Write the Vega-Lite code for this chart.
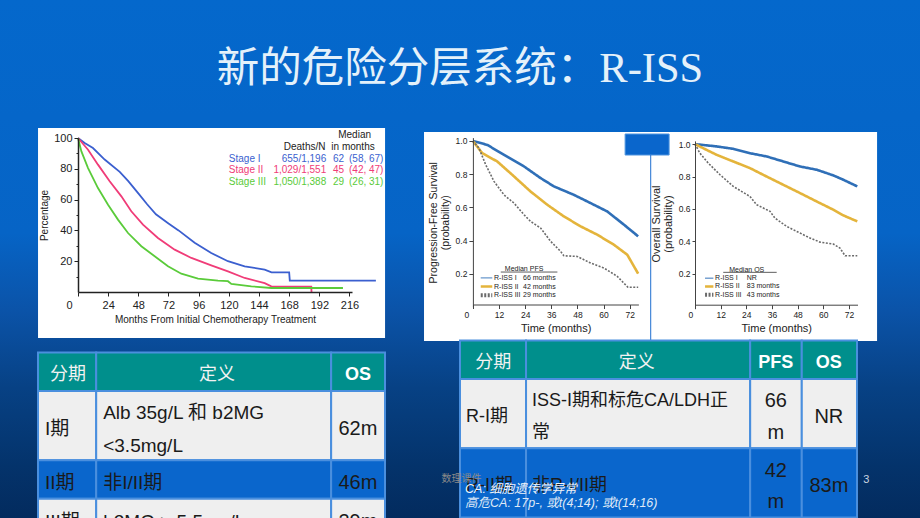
{
"$schema": "https://vega.github.io/schema/vega-lite/v6.json",
"width": 920, "height": 518,
"autosize": {"type": "none"},
"padding": 0,
"background": "#0560c2",
"title": {"text": "新的危险分层系统：R-ISS", "font": "Liberation Serif, Noto Sans CJK SC", "fontSize": 42.5, "fontWeight": "normal", "color": "#e4f1fa", "anchor": "middle", "frame": "group", "offset": -90},
"config": {
  "view": {"stroke": null},
  "axis": {"grid": false, "domainColor": "#222", "tickColor": "#222", "labelColor": "#222", "titleColor": "#222", "titleFontWeight": "normal", "labelFont": "Liberation Sans", "titleFont": "Liberation Sans"}
},
"datasets": {
  "iss": [
    {"group":"Stage I","t":0,"s":100},{"group":"Stage I","t":5.3,"s":96.8},{"group":"Stage I","t":11.9,"s":93.5},{"group":"Stage I","t":21.2,"s":86},{"group":"Stage I","t":33.2,"s":78},{"group":"Stage I","t":40,"s":72},{"group":"Stage I","t":48,"s":64},{"group":"Stage I","t":55,"s":57},{"group":"Stage I","t":62,"s":50.5},{"group":"Stage I","t":72,"s":44.5},{"group":"Stage I","t":80,"s":40},{"group":"Stage I","t":92.8,"s":32},{"group":"Stage I","t":106,"s":25.3},{"group":"Stage I","t":119.3,"s":20},{"group":"Stage I","t":132.6,"s":16.7},{"group":"Stage I","t":148.5,"s":14.5},{"group":"Stage I","t":154,"s":12.8},{"group":"Stage I","t":168,"s":12.8},{"group":"Stage I","t":168.5,"s":7.4},{"group":"Stage I","t":237,"s":7.4},
    {"group":"Stage II","t":0,"s":100},{"group":"Stage II","t":8,"s":92.4},{"group":"Stage II","t":15.9,"s":82.7},{"group":"Stage II","t":25.2,"s":71.9},{"group":"Stage II","t":34.5,"s":62.1},{"group":"Stage II","t":42.4,"s":52.4},{"group":"Stage II","t":51.7,"s":43.7},{"group":"Stage II","t":63.6,"s":35.1},{"group":"Stage II","t":76.9,"s":27.5},{"group":"Stage II","t":90.2,"s":22.1},{"group":"Stage II","t":106,"s":17.3},{"group":"Stage II","t":119.3,"s":13.4},{"group":"Stage II","t":132.6,"s":9.1},{"group":"Stage II","t":148.5,"s":5.8},{"group":"Stage II","t":153.8,"s":3.7},{"group":"Stage II","t":185.6,"s":3.5},{"group":"Stage II","t":185.8,"s":0},
    {"group":"Stage III","t":0,"s":100},{"group":"Stage III","t":2.7,"s":91.3},{"group":"Stage III","t":8,"s":80.5},{"group":"Stage III","t":15.9,"s":67.5},{"group":"Stage III","t":23.9,"s":56.7},{"group":"Stage III","t":31.8,"s":47},{"group":"Stage III","t":39.8,"s":38.3},{"group":"Stage III","t":50.4,"s":29.7},{"group":"Stage III","t":61,"s":23.2},{"group":"Stage III","t":71.6,"s":16.7},{"group":"Stage III","t":82.2,"s":11.9},{"group":"Stage III","t":95.5,"s":8.7},{"group":"Stage III","t":111.4,"s":7.4},{"group":"Stage III","t":119.3,"s":7},{"group":"Stage III","t":122,"s":5.2},{"group":"Stage III","t":137.9,"s":3.7},{"group":"Stage III","t":153.8,"s":2.6},{"group":"Stage III","t":210.8,"s":2.6}
  ],
  "issLegend": [
    {"group":"Stage I","deaths":"655/1,196","median":"62","ci":"(58, 67)"},
    {"group":"Stage II","deaths":"1,029/1,551","median":"45","ci":"(42, 47)"},
    {"group":"Stage III","deaths":"1,050/1,388","median":"29","ci":"(26, 31)"}
  ],
  "pfs": [
    {"group":"R-ISS I","t":0,"s":1},{"group":"R-ISS I","t":6.6,"s":0.976},{"group":"R-ISS I","t":14.3,"s":0.916},{"group":"R-ISS I","t":23.5,"s":0.846},{"group":"R-ISS I","t":31.1,"s":0.776},{"group":"R-ISS I","t":37.2,"s":0.726},{"group":"R-ISS I","t":46.4,"s":0.675},{"group":"R-ISS I","t":54.1,"s":0.625},{"group":"R-ISS I","t":61.7,"s":0.575},{"group":"R-ISS I","t":69.4,"s":0.495},{"group":"R-ISS I","t":75.9,"s":0.425},
    {"group":"R-ISS II","t":0,"s":1},{"group":"R-ISS II","t":4.3,"s":0.926},{"group":"R-ISS II","t":11.2,"s":0.876},{"group":"R-ISS II","t":18.9,"s":0.786},{"group":"R-ISS II","t":26.5,"s":0.695},{"group":"R-ISS II","t":34.2,"s":0.615},{"group":"R-ISS II","t":41.8,"s":0.545},{"group":"R-ISS II","t":49.5,"s":0.485},{"group":"R-ISS II","t":57.1,"s":0.435},{"group":"R-ISS II","t":64.8,"s":0.374},{"group":"R-ISS II","t":70.9,"s":0.314},{"group":"R-ISS II","t":75.9,"s":0.2},
    {"group":"R-ISS III","t":0,"s":1},{"group":"R-ISS III","t":2.8,"s":0.956},{"group":"R-ISS III","t":5.9,"s":0.856},{"group":"R-ISS III","t":9.7,"s":0.756},{"group":"R-ISS III","t":14.3,"s":0.675},{"group":"R-ISS III","t":18.9,"s":0.625},{"group":"R-ISS III","t":23.5,"s":0.555},{"group":"R-ISS III","t":26.5,"s":0.515},{"group":"R-ISS III","t":31.1,"s":0.475},{"group":"R-ISS III","t":35.7,"s":0.395},{"group":"R-ISS III","t":40.3,"s":0.334},{"group":"R-ISS III","t":41.8,"s":0.308},{"group":"R-ISS III","t":47.9,"s":0.304},{"group":"R-ISS III","t":54.1,"s":0.264},{"group":"R-ISS III","t":60.2,"s":0.234},{"group":"R-ISS III","t":66.3,"s":0.184},{"group":"R-ISS III","t":71.2,"s":0.118},{"group":"R-ISS III","t":75.9,"s":0.118}
  ],
  "pfsLegend": [
    {"group":"R-ISS I","median":"66 months"},{"group":"R-ISS II","median":"42 months"},{"group":"R-ISS III","median":"29 months"}
  ],
  "os": [
    {"group":"R-ISS I","t":0,"s":1},{"group":"R-ISS I","t":10.1,"s":0.986},{"group":"R-ISS I","t":17.9,"s":0.971},{"group":"R-ISS I","t":25.7,"s":0.944},{"group":"R-ISS I","t":33.5,"s":0.924},{"group":"R-ISS I","t":41.3,"s":0.893},{"group":"R-ISS I","t":49.1,"s":0.862},{"group":"R-ISS I","t":56.9,"s":0.842},{"group":"R-ISS I","t":64.7,"s":0.807},{"group":"R-ISS I","t":69.4,"s":0.78},{"group":"R-ISS I","t":75.9,"s":0.739},
    {"group":"R-ISS II","t":0,"s":1},{"group":"R-ISS II","t":10.1,"s":0.934},{"group":"R-ISS II","t":17.9,"s":0.893},{"group":"R-ISS II","t":25.7,"s":0.852},{"group":"R-ISS II","t":33.5,"s":0.8},{"group":"R-ISS II","t":41.3,"s":0.749},{"group":"R-ISS II","t":49.1,"s":0.698},{"group":"R-ISS II","t":56.9,"s":0.646},{"group":"R-ISS II","t":64.7,"s":0.595},{"group":"R-ISS II","t":69.4,"s":0.56},{"group":"R-ISS II","t":75.9,"s":0.523},
    {"group":"R-ISS III","t":0,"s":1},{"group":"R-ISS III","t":2.3,"s":0.944},{"group":"R-ISS III","t":6.2,"s":0.883},{"group":"R-ISS III","t":11.7,"s":0.811},{"group":"R-ISS III","t":17.9,"s":0.739},{"group":"R-ISS III","t":25.7,"s":0.677},{"group":"R-ISS III","t":28.8,"s":0.626},{"group":"R-ISS III","t":35.1,"s":0.585},{"group":"R-ISS III","t":37.4,"s":0.543},{"group":"R-ISS III","t":42.9,"s":0.492},{"group":"R-ISS III","t":49.1,"s":0.451},{"group":"R-ISS III","t":53.8,"s":0.42},{"group":"R-ISS III","t":58.5,"s":0.395},{"group":"R-ISS III","t":64.7,"s":0.383},{"group":"R-ISS III","t":67.8,"s":0.358},{"group":"R-ISS III","t":70.2,"s":0.311},{"group":"R-ISS III","t":75.9,"s":0.311}
  ],
  "osLegend": [
    {"group":"R-ISS I","median":"NR"},{"group":"R-ISS II","median":"83 months"},{"group":"R-ISS III","median":"43 months"}
  ],
  "cols1": [{"col":"stage","c0":0,"c1":1.61,"cm":0.83},{"col":"def","c0":1.61,"c1":8.11,"cm":4.95},{"col":"os","c0":8.11,"c1":9.6,"cm":8.85}],
  "rows1": [{"row":"hdr","r0":0,"r1":1,"rm":0.5},{"row":"r1","r0":1,"r1":2.8,"rm":1.9},{"row":"r2","r0":2.8,"r1":3.8,"rm":3.3},{"row":"r3","r0":3.8,"r1":4.8,"rm":4.3}],
  "cells1": [
    {"row":"hdr","col":"stage","text":"分期"},{"row":"hdr","col":"def","text":"定义"},{"row":"hdr","col":"os","text":"OS"},
    {"row":"r1","col":"stage","text":"I期"},{"row":"r1","col":"def","text":["Alb 35g/L 和 b2MG","<3.5mg/L"]},{"row":"r1","col":"os","text":"62m"},
    {"row":"r2","col":"stage","text":"II期"},{"row":"r2","col":"def","text":"非I/II期"},{"row":"r2","col":"os","text":"46m"},
    {"row":"r3","col":"stage","text":"III期"},{"row":"r3","col":"def","text":"b2MG > 5.5mg/L"},{"row":"r3","col":"os","text":"29m"}
  ],
  "cols2": [{"col":"stage","c0":0,"c1":1.83,"cm":0.92},{"col":"def","c0":1.83,"c1":8.04,"cm":4.9},{"col":"pfs","c0":8.04,"c1":9.47,"cm":8.75},{"col":"os","c0":9.47,"c1":11,"cm":10.22}],
  "rows2": [{"row":"hdr","r0":0,"r1":1,"rm":0.5},{"row":"r1","r0":1,"r1":2.8,"rm":1.9},{"row":"r2","r0":2.8,"r1":4.6,"rm":3.7}],
  "cells2": [
    {"row":"hdr","col":"stage","text":"分期"},{"row":"hdr","col":"def","text":"定义"},{"row":"hdr","col":"pfs","text":"PFS"},{"row":"hdr","col":"os","text":"OS"},
    {"row":"r1","col":"stage","text":"R-I期"},{"row":"r1","col":"def","text":["ISS-I期和标危CA/LDH正","常"]},{"row":"r1","col":"pfs","text":["66","m"]},{"row":"r1","col":"os","text":"NR"},
    {"row":"r2","col":"stage","text":"R-II期"},{"row":"r2","col":"def","text":"非R-I/II期"},{"row":"r2","col":"pfs","text":["42","m"]},{"row":"r2","col":"os","text":"83m"}
  ]
},
"layer": [
  {"data": {"values": [{}]}, "mark": {"type": "rect", "color": {"gradient": "linear", "x1": 0, "y1": 0, "x2": 0, "y2": 1, "stops": [{"offset": 0, "color": "#0468cc"}, {"offset": 0.45, "color": "#0664c6"}, {"offset": 0.6, "color": "#0b53a8"}, {"offset": 0.75, "color": "#074184"}, {"offset": 0.9, "color": "#04336b"}, {"offset": 1, "color": "#032b5e"}]}}, "encoding": {}},
  {
    "layer": [
      {"layer": [
        {"data": {"values": [{}]}, "mark": {"type": "rect", "color": "#ffffff"}, "encoding": {"x": {"datum": -31.8}, "x2": {"datum": 244.3}, "y": {"datum": 106.5}, "y2": {"datum": -29.9}}},
        {"data": {"name": "iss"}, "mark": {"type": "line", "strokeWidth": 1.8},
         "encoding": {
           "x": {"field": "t", "type": "quantitative", "scale": {"domain": [0, 218], "range": [78, 352], "nice": false, "zero": false},
                 "axis": {"zindex": 1, "orient": "bottom", "offset": -226, "values": [0,24,48,72,96,120,144,168,192,216], "title": "Months From Initial Chemotherapy Treatment", "titleFontSize": 10, "titlePadding": 4, "labelFontSize": 11, "labelPadding": 3, "tickSize": 4, "domainWidth": 1.5, "labelOffset": {"condition": {"test": "datum.value === 0", "value": -12}, "value": 0}}},
           "y": {"field": "s", "type": "quantitative", "scale": {"domain": [0, 100], "range": [292, 138], "nice": false, "zero": false},
                 "axis": {"zindex": 1, "orient": "left", "offset": -78, "values": [10,20,30,40,50,60,70,80,90,100], "labelExpr": "datum.value % 20 === 0 ? datum.label : ''", "tickSize": {"condition": {"test": "datum.value % 20 === 0", "value": 4}, "value": 2}, "title": "Percentage", "titleFontSize": 10, "titlePadding": 4, "labelFontSize": 11, "labelPadding": 2, "domainWidth": 1.5}},
           "color": {"field": "group", "type": "nominal", "scale": {"domain": ["Stage I", "Stage II", "Stage III"], "range": ["#3b5fcf", "#f03c78", "#5acb3a"]}, "legend": null}
         }}
      ]},
      {"data": {"name": "issLegend"},
       "encoding": {"y": {"field": "group", "type": "nominal", "scale": {"type": "point", "domain": ["h1", "h2", "Stage I", "Stage II", "Stage III"], "range": [135.3, 182], "padding": 0}, "axis": null}},
       "layer": [
         {"mark": {"type": "text", "align": "left", "baseline": "middle", "fontSize": 10, "font": "Liberation Sans"}, "encoding": {"x": {"datum": 120}, "text": {"field": "group"}, "color": {"field": "group", "type": "nominal", "legend": null}}},
         {"mark": {"type": "text", "align": "right", "baseline": "middle", "fontSize": 10, "font": "Liberation Sans"}, "encoding": {"x": {"datum": 197.5}, "text": {"field": "deaths"}, "color": {"field": "group", "type": "nominal", "legend": null}}},
         {"mark": {"type": "text", "align": "left", "baseline": "middle", "fontSize": 10, "font": "Liberation Sans"}, "encoding": {"x": {"datum": 202.9}, "text": {"field": "median"}, "color": {"field": "group", "type": "nominal", "legend": null}}},
         {"mark": {"type": "text", "align": "left", "baseline": "middle", "fontSize": 10, "font": "Liberation Sans"}, "encoding": {"x": {"datum": 215.6}, "text": {"field": "ci"}, "color": {"field": "group", "type": "nominal", "legend": null}}},
         {"data": {"values": [{}]}, "mark": {"type": "text", "align": "center", "baseline": "middle", "fontSize": 10, "font": "Liberation Sans", "color": "#222"}, "encoding": {"x": {"datum": 220.1}, "y": {"datum": "h1"}, "text": {"value": "Median"}}},
         {"data": {"values": [{}]}, "mark": {"type": "text", "align": "center", "baseline": "middle", "fontSize": 10, "font": "Liberation Sans", "color": "#222"}, "encoding": {"x": {"datum": 180.3}, "y": {"datum": "h2"}, "text": {"value": "Deaths/N"}}},
         {"data": {"values": [{}]}, "mark": {"type": "text", "align": "center", "baseline": "middle", "fontSize": 10, "font": "Liberation Sans", "color": "#222"}, "encoding": {"x": {"datum": 218.8}, "y": {"datum": "h2"}, "text": {"value": "in months"}}}
       ]}
    ],
    "resolve": {"scale": {"y": "independent"}, "axis": {"y": "independent"}}
  },
  {
    "layer": [
      {"layer": [
        {"data": {"values": [{}]}, "mark": {"type": "rect", "color": "#ffffff"}, "encoding": {"x": {"datum": -22.45}, "x2": {"datum": 185.6}, "y": {"datum": 1.0536}, "y2": {"datum": -0.2054}}},
        {"data": {"values": [{}]}, "mark": {"type": "rect", "color": "#0a66cc", "stroke": "#4f95e0", "strokeWidth": 1}, "encoding": {"x": {"datum": 69.9}, "x2": {"datum": 90.1}, "y": {"datum": 1.0416}, "y2": {"datum": 0.915}}},
        {"data": {"values": [{}]}, "mark": {"type": "rule", "color": "#1f6fd0", "strokeWidth": 1}, "encoding": {"x": {"datum": 81.65}, "y": {"datum": 0.915}, "y2": {"datum": -0.2054}}},
        {"data": {"values": [{}]}, "mark": {"type": "rule", "color": "#333", "strokeWidth": 0.8}, "encoding": {"x": {"datum": 12.8}, "x2": {"datum": 38.8}, "y": {"datum": 0.21}}},
        {"data": {"name": "pfs"}, "mark": {"type": "line"},
         "encoding": {
           "x": {"field": "t", "type": "quantitative", "scale": {"domain": [0, 76], "range": [472.9, 638.4], "nice": false, "zero": false},
                 "axis": {"zindex": 1, "orient": "bottom", "offset": -213.5, "values": [0,12,24,36,48,60,72], "title": "Time (months)", "titleFontSize": 11, "titlePadding": 3, "labelFontSize": 8.5, "labelPadding": 2, "tickSize": 4, "domainColor": "#444", "tickColor": "#444", "labelOffset": {"condition": {"test": "datum.value === 0", "value": -9}, "value": 0}}},
           "y": {"field": "s", "type": "quantitative", "scale": {"domain": [0, 1.02], "range": [306.9, 137.6], "nice": false, "zero": false},
                 "axis": {"zindex": 1, "orient": "left", "offset": -472.9, "values": [0.2,0.4,0.6,0.8,1.0], "format": ".1f", "title": ["Progression-Free Survival", "(probability)"], "titleFontSize": 10.5, "titleLineHeight": 12, "titlePadding": 5, "labelFontSize": 8.5, "labelPadding": 2, "tickSize": 4, "domainColor": "#444", "tickColor": "#444"}},
           "color": {"field": "group", "type": "nominal", "scale": {"domain": ["R-ISS I", "R-ISS II", "R-ISS III"], "range": ["#2f6fb7", "#e4b43b", "#6b6b6b"]}, "legend": null},
           "strokeDash": {"field": "group", "type": "nominal", "scale": {"domain": ["R-ISS I", "R-ISS II", "R-ISS III"], "range": [[1, 0], [1, 0], [2, 1.5]]}, "legend": null},
           "strokeWidth": {"field": "group", "type": "ordinal", "scale": {"type": "ordinal", "domain": ["R-ISS I", "R-ISS II", "R-ISS III"], "range": [2.6, 2.6, 1.6]}, "legend": null}
         }}
      ]},
      {"data": {"name": "pfsLegend"},
       "encoding": {"y": {"field": "group", "type": "nominal", "scale": {"type": "point", "domain": ["title", "R-ISS I", "R-ISS II", "R-ISS III"], "range": [269.2, 295.3], "padding": 0}, "axis": null}},
       "layer": [
         {"mark": {"type": "rule"}, "encoding": {"x": {"datum": 3.6}, "x2": {"datum": 8.9}, "color": {"field": "group", "type": "nominal", "legend": null}, "strokeDash": {"field": "group", "type": "nominal", "legend": null}, "strokeWidth": {"field": "group", "type": "ordinal", "legend": null}}},
         {"mark": {"type": "text", "align": "left", "baseline": "middle", "fontSize": 7, "font": "Liberation Sans", "color": "#222"}, "encoding": {"x": {"datum": 9.7}, "text": {"field": "group"}}},
         {"mark": {"type": "text", "align": "left", "baseline": "middle", "fontSize": 7, "font": "Liberation Sans", "color": "#222"}, "encoding": {"x": {"datum": 23.0}, "text": {"field": "median"}}},
         {"data": {"values": [{}]}, "mark": {"type": "text", "align": "center", "baseline": "middle", "fontSize": 7, "font": "Liberation Sans", "color": "#222"}, "encoding": {"x": {"datum": 23.5}, "y": {"datum": "title"}, "text": {"value": "Median PFS"}}}
       ]}
    ],
    "resolve": {"scale": {"y": "independent"}, "axis": {"y": "independent"}}
  },
  {
    "layer": [
      {"layer": [
        {"data": {"values": [{}]}, "mark": {"type": "rule", "color": "#333", "strokeWidth": 0.8}, "encoding": {"x": {"datum": 13.2}, "x2": {"datum": 38.2}, "y": {"datum": 0.2085}}},
        {"data": {"name": "os"}, "mark": {"type": "line"},
         "encoding": {
           "x": {"field": "t", "type": "quantitative", "scale": {"domain": [0, 76], "range": [695, 857.5], "nice": false, "zero": false},
                 "axis": {"zindex": 1, "orient": "bottom", "offset": -213.3, "values": [0,12,24,36,48,60,72], "title": "Time (months)", "titleFontSize": 11, "titlePadding": 3, "labelFontSize": 8.5, "labelPadding": 2, "tickSize": 4, "domainColor": "#444", "tickColor": "#444", "labelOffset": {"condition": {"test": "datum.value === 0", "value": -7}, "value": 0}}},
           "y": {"field": "s", "type": "quantitative", "scale": {"domain": [0, 1.02], "range": [306.1, 140.9], "nice": false, "zero": false},
                 "axis": {"zindex": 1, "orient": "left", "offset": -695, "values": [0.2,0.4,0.6,0.8,1.0], "format": ".1f", "title": ["Overall Survival", "(probability)"], "titleFontSize": 11, "titleLineHeight": 12, "titlePadding": 5, "labelFontSize": 8.5, "labelPadding": 2, "tickSize": 3, "domainColor": "#444", "tickColor": "#444"}},
           "color": {"field": "group", "type": "nominal", "scale": {"domain": ["R-ISS I", "R-ISS II", "R-ISS III"], "range": ["#2f6fb7", "#e4b43b", "#6b6b6b"]}, "legend": null},
           "strokeDash": {"field": "group", "type": "nominal", "scale": {"domain": ["R-ISS I", "R-ISS II", "R-ISS III"], "range": [[1, 0], [1, 0], [2, 1.5]]}, "legend": null},
           "strokeWidth": {"field": "group", "type": "ordinal", "scale": {"type": "ordinal", "domain": ["R-ISS I", "R-ISS II", "R-ISS III"], "range": [2.6, 2.6, 1.6]}, "legend": null}
         }}
      ]},
      {"data": {"name": "osLegend"},
       "encoding": {"y": {"field": "group", "type": "nominal", "scale": {"type": "point", "domain": ["title", "R-ISS I", "R-ISS II", "R-ISS III"], "range": [269.9, 294.7], "padding": 0}, "axis": null}},
       "layer": [
         {"mark": {"type": "rule"}, "encoding": {"x": {"datum": 4.7}, "x2": {"datum": 8.6}, "color": {"field": "group", "type": "nominal", "legend": null}, "strokeDash": {"field": "group", "type": "nominal", "legend": null}, "strokeWidth": {"field": "group", "type": "ordinal", "legend": null}}},
         {"mark": {"type": "text", "align": "left", "baseline": "middle", "fontSize": 7, "font": "Liberation Sans", "color": "#222"}, "encoding": {"x": {"datum": 9.4}, "text": {"field": "group"}}},
         {"mark": {"type": "text", "align": "left", "baseline": "middle", "fontSize": 7, "font": "Liberation Sans", "color": "#222"}, "encoding": {"x": {"datum": 24.2}, "text": {"field": "median"}}},
         {"data": {"values": [{}]}, "mark": {"type": "text", "align": "center", "baseline": "middle", "fontSize": 7, "font": "Liberation Sans", "color": "#222"}, "encoding": {"x": {"datum": 24.2}, "y": {"datum": "title"}, "text": {"value": "Median OS"}}}
       ]}
    ],
    "resolve": {"scale": {"y": "independent"}, "axis": {"y": "independent"}}
  },
  {
    "data": {"name": "cells1"},
    "transform": [
      {"lookup": "row", "from": {"data": {"name": "rows1"}, "key": "row", "fields": ["r0", "r1", "rm"]}},
      {"lookup": "col", "from": {"data": {"name": "cols1"}, "key": "col", "fields": ["c0", "c1", "cm"]}}
    ],
    "layer": [
      {"mark": {"type": "rect", "stroke": "#4a8fde", "strokeWidth": 2},
       "encoding": {
         "x": {"field": "c0", "type": "quantitative", "scale": {"domain": [0, 9.6], "range": [38, 385], "nice": false, "zero": false}, "axis": null},
         "x2": {"field": "c1"},
         "y": {"field": "r0", "type": "quantitative", "scale": {"domain": [0, 5], "range": [352.5, 545], "nice": false, "zero": false}, "axis": null},
         "y2": {"field": "r1"},
         "fill": {"field": "row", "type": "nominal", "scale": {"domain": ["hdr", "r1", "r2", "r3"], "range": ["#008f8c", "#efefef", "#0a66cc", "#efefef"]}, "legend": null}
       }},
      {"transform": [{"filter": "datum.row !== 'hdr' && (datum.col === 'stage' || datum.col === 'def') && !isArray(datum.text)"}],
       "mark": {"type": "text", "align": "left", "baseline": "middle", "dx": 7, "dy": 3.5, "fontSize": 19, "font": "Liberation Sans, Noto Sans CJK SC", "color": "#1a1a1a"},
       "encoding": {"x": {"field": "c0", "type": "quantitative"}, "y": {"field": "rm", "type": "quantitative"}, "text": {"field": "text"}}},
      {"transform": [{"filter": "datum.row !== 'hdr' && (datum.col === 'stage' || datum.col === 'def') && isArray(datum.text)"}],
       "mark": {"type": "text", "align": "left", "baseline": "middle", "dx": 7, "dy": -13, "fontSize": 19, "font": "Liberation Sans, Noto Sans CJK SC", "color": "#1a1a1a", "lineHeight": 33},
       "encoding": {"x": {"field": "c0", "type": "quantitative"}, "y": {"field": "rm", "type": "quantitative"}, "text": {"field": "text"}}},
      {"transform": [{"filter": "datum.row !== 'hdr' && datum.col !== 'stage' && datum.col !== 'def'"}],
       "mark": {"type": "text", "align": "center", "baseline": "middle", "dy": 3.5, "fontSize": 20, "font": "Liberation Sans, Noto Sans CJK SC", "color": "#1a1a1a"},
       "encoding": {"x": {"field": "cm", "type": "quantitative"}, "y": {"field": "rm", "type": "quantitative"}, "text": {"field": "text"}}},
      {"transform": [{"filter": "datum.row === 'hdr' && (datum.col === 'stage' || datum.col === 'def')"}],
       "mark": {"type": "text", "align": "center", "baseline": "middle", "dy": 3.5, "fontSize": 18, "font": "Noto Sans CJK SC", "color": "#f2f2f2"},
       "encoding": {"x": {"field": "cm", "type": "quantitative"}, "y": {"field": "rm", "type": "quantitative"}, "text": {"field": "text"}}},
      {"transform": [{"filter": "datum.row === 'hdr' && datum.col !== 'stage' && datum.col !== 'def'"}],
       "mark": {"type": "text", "align": "center", "baseline": "middle", "dy": 3.5, "fontSize": 18, "fontWeight": "bold", "font": "Liberation Sans", "color": "#ffffff"},
       "encoding": {"x": {"field": "cm", "type": "quantitative"}, "y": {"field": "rm", "type": "quantitative"}, "text": {"field": "text"}}}
    ]
  },
  {
    "layer": [
      {
        "data": {"name": "cells2"},
        "transform": [
          {"lookup": "row", "from": {"data": {"name": "rows2"}, "key": "row", "fields": ["r0", "r1", "rm"]}},
          {"lookup": "col", "from": {"data": {"name": "cols2"}, "key": "col", "fields": ["c0", "c1", "cm"]}}
        ],
        "layer": [
          {"mark": {"type": "rect", "stroke": "#4a8fde", "strokeWidth": 2},
           "encoding": {
             "x": {"field": "c0", "type": "quantitative", "scale": {"domain": [0, 11], "range": [460, 857], "nice": false, "zero": false}, "axis": null},
             "x2": {"field": "c1"},
             "y": {"field": "r0", "type": "quantitative", "scale": {"domain": [0, 5], "range": [340.5, 533], "nice": false, "zero": false}, "axis": null},
             "y2": {"field": "r1"},
             "fill": {"field": "row", "type": "nominal", "scale": {"domain": ["hdr", "r1", "r2"], "range": ["#008f8c", "#efefef", "#0a66cc"]}, "legend": null}
           }},
          {"transform": [{"filter": "datum.row !== 'hdr' && (datum.col === 'stage' || datum.col === 'def') && !isArray(datum.text)"}],
           "mark": {"type": "text", "align": "left", "baseline": "middle", "dx": 6, "dy": 3.5, "fontSize": 18, "font": "Liberation Sans, Noto Sans CJK SC", "color": "#1a1a1a"},
           "encoding": {"x": {"field": "c0", "type": "quantitative"}, "y": {"field": "rm", "type": "quantitative"}, "text": {"field": "text"}}},
          {"transform": [{"filter": "datum.row !== 'hdr' && (datum.col === 'stage' || datum.col === 'def') && isArray(datum.text)"}],
           "mark": {"type": "text", "align": "left", "baseline": "middle", "dx": 6, "dy": -12.3, "fontSize": 18, "font": "Liberation Sans, Noto Sans CJK SC", "color": "#1a1a1a", "lineHeight": 31.6},
           "encoding": {"x": {"field": "c0", "type": "quantitative"}, "y": {"field": "rm", "type": "quantitative"}, "text": {"field": "text"}}},
          {"transform": [{"filter": "datum.row !== 'hdr' && datum.col !== 'stage' && datum.col !== 'def' && !isArray(datum.text)"}],
           "mark": {"type": "text", "align": "center", "baseline": "middle", "dy": 3.5, "fontSize": 20, "font": "Liberation Sans, Noto Sans CJK SC", "color": "#1a1a1a"},
           "encoding": {"x": {"field": "cm", "type": "quantitative"}, "y": {"field": "rm", "type": "quantitative"}, "text": {"field": "text"}}},
          {"transform": [{"filter": "datum.row !== 'hdr' && datum.col !== 'stage' && datum.col !== 'def' && isArray(datum.text)"}],
           "mark": {"type": "text", "align": "center", "baseline": "middle", "dy": -12.3, "fontSize": 20, "font": "Liberation Sans, Noto Sans CJK SC", "color": "#1a1a1a", "lineHeight": 31.6},
           "encoding": {"x": {"field": "cm", "type": "quantitative"}, "y": {"field": "rm", "type": "quantitative"}, "text": {"field": "text"}}},
          {"transform": [{"filter": "datum.row === 'hdr' && (datum.col === 'stage' || datum.col === 'def')"}],
           "mark": {"type": "text", "align": "center", "baseline": "middle", "dy": 3.5, "fontSize": 18, "font": "Noto Sans CJK SC", "color": "#f2f2f2"},
           "encoding": {"x": {"field": "cm", "type": "quantitative"}, "y": {"field": "rm", "type": "quantitative"}, "text": {"field": "text"}}},
          {"transform": [{"filter": "datum.row === 'hdr' && datum.col !== 'stage' && datum.col !== 'def'"}],
           "mark": {"type": "text", "align": "center", "baseline": "middle", "dy": 3.5, "fontSize": 18, "fontWeight": "bold", "font": "Liberation Sans", "color": "#ffffff"},
           "encoding": {"x": {"field": "cm", "type": "quantitative"}, "y": {"field": "rm", "type": "quantitative"}, "text": {"field": "text"}}}
        ]
      },
      {"data": {"values": [{}]}, "mark": {"type": "text", "align": "left", "baseline": "middle", "fontSize": 12.5, "fontStyle": "italic", "font": "Liberation Sans, Noto Sans CJK SC", "color": "#f0f4fa"}, "encoding": {"x": {"datum": 0.14}, "y": {"datum": 3.865}, "text": {"value": "CA: 细胞遗传学异常"}}},
      {"data": {"values": [{}]}, "mark": {"type": "text", "align": "left", "baseline": "middle", "fontSize": 12.5, "fontStyle": "italic", "font": "Liberation Sans, Noto Sans CJK SC", "color": "#dfe9f7"}, "encoding": {"x": {"datum": 0.14}, "y": {"datum": 4.213}, "text": {"value": "高危CA: 17p-, 或t(4;14); 或t(14;16)"}}},
      {"data": {"values": [{}]}, "mark": {"type": "text", "align": "left", "baseline": "middle", "fontSize": 10, "font": "Noto Sans CJK SC", "color": "#8a8a8a"}, "encoding": {"x": {"datum": -0.51}, "y": {"datum": 3.605}, "text": {"value": "数理课件"}}},
      {"data": {"values": [{}]}, "mark": {"type": "text", "align": "left", "baseline": "middle", "fontSize": 11, "font": "Liberation Sans", "color": "#c9d3e0"}, "encoding": {"x": {"datum": 11.17}, "y": {"datum": 3.62}, "text": {"value": "3"}}}
    ]
  }
],
"resolve": {"scale": {"x": "independent", "y": "independent", "color": "independent", "fill": "independent", "strokeDash": "independent", "strokeWidth": "independent"}, "axis": {"x": "independent", "y": "independent"}}
}
